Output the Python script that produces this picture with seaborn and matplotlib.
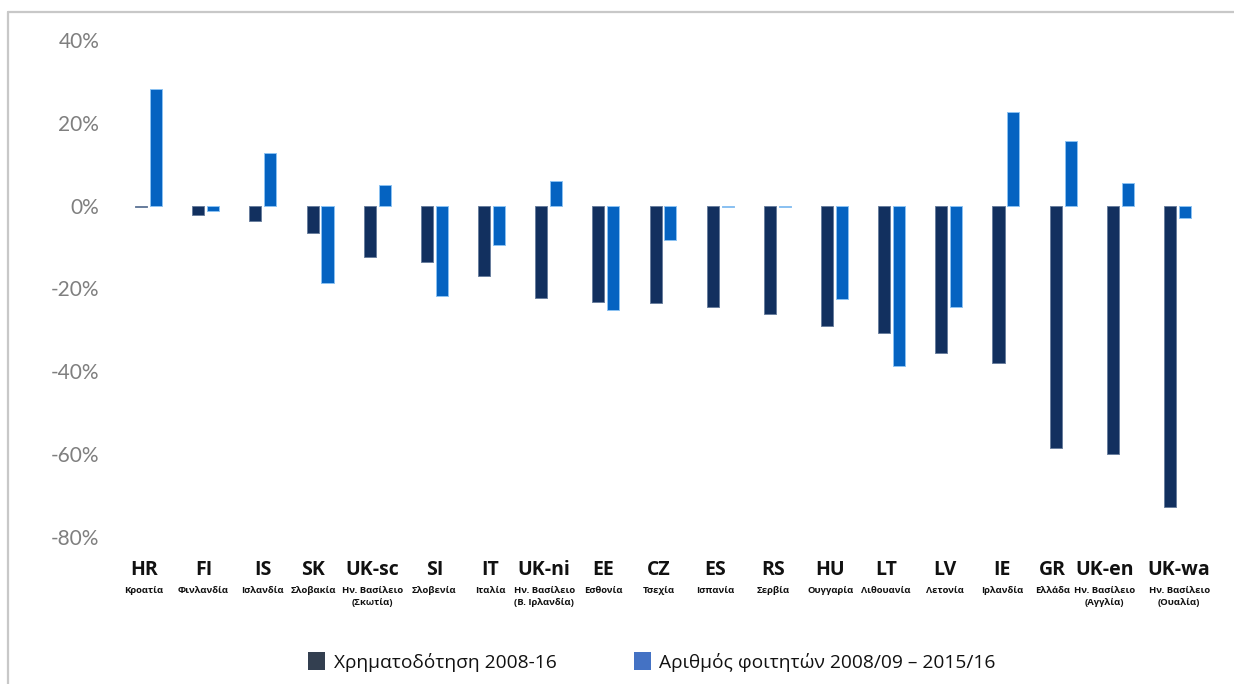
import matplotlib
matplotlib.use("Agg")
import matplotlib.pyplot as plt
from matplotlib.lines import Line2D
from matplotlib.patches import Patch
from matplotlib.transforms import blended_transform_factory
import pandas as pd
import seaborn as sns

# Country codes, Greek names and the two percentage changes per system
codes = ["HR", "FI", "IS", "SK", "UK-sc", "SI", "IT", "UK-ni", "EE", "CZ",
         "ES", "RS", "HU", "LT", "LV", "IE", "GR", "UK-en", "UK-wa"]
names = ["Κροατία", "Φινλανδία", "Ισλανδία", "Σλοβακία", "Ην. Βασίλειο\n(Σκωτία)",
         "Σλοβενία", "Ιταλία", "Ην. Βασίλειο\n(Β. Ιρλανδία)", "Εσθονία", "Τσεχία",
         "Ισπανία", "Σερβία", "Ουγγαρία", "Λιθουανία", "Λετονία", "Ιρλανδία",
         "Ελλάδα", "Ην. Βασίλειο\n(Αγγλία)", "Ην. Βασίλειο\n(Ουαλία)"]
funding = [-0.3, -2.3, -3.7, -6.6, -12.4, -13.7, -17.0, -22.2, -23.2, -23.5,
           -24.5, -26.1, -29.1, -30.7, -35.6, -38.1, -58.5, -59.9, -72.8]
students = [28.1, -1.4, 12.8, -18.7, 5.0, -21.7, -9.5, 5.9, -25.2, -8.2,
            -0.4, -0.4, -22.5, -38.6, -24.5, 22.6, 15.7, 5.5, -3.0]
series_names = ["Χρηματοδότηση 2008-16", "Αριθμός φοιτητών 2008/09 – 2015/16"]
y_ticks = [-80, -60, -40, -20, 0, 20, 40]

bar_colors = ["#12305f", "#0563c1"]
edge_colors = ["#6a7f9e", "#8cc2f2"]
legend_colors = ["#333f50", "#4472c4"]

# Small horizontal nudges (in category units) so crowded labels stay apart
label_nudge = [-0.08, -0.04, 0.0, -0.12, -0.08, 0.0, -0.02, -0.08, -0.05, -0.08,
               -0.08, -0.07, -0.07, -0.1, -0.07, -0.07, -0.19, -0.28, 0.03]

df = pd.DataFrame({
    "code": codes * 2,
    "value": funding + students,
    "series": [series_names[0]] * len(codes) + [series_names[1]] * len(codes),
})

sns.set_theme(style="white")
plt.rcParams["font.family"] = ["Open Sans", "DejaVu Sans"]

fig = plt.figure(figsize=(12.34, 6.84), dpi=100)
ax = fig.add_axes([120 / 1234, 1 - 537 / 684, (1206 - 120) / 1234, (537 - 40) / 684])

sns.barplot(data=df, x="code", y="value", hue="series", hue_order=series_names,
            palette=bar_colors, saturation=1, width=0.52, gap=0.19,
            legend=False, ax=ax)

for cont, ec in zip(ax.containers, edge_colors):
    for bar in cont:
        bar.set_edgecolor(ec)
        bar.set_linewidth(0.7)

ax.set_xlim(-0.5, len(codes) - 0.5)
ax.set_ylim(-80, 40)
ax.set_yticks(y_ticks)
ax.set_yticklabels([f"{t}%" for t in y_ticks], family=["Lato", "DejaVu Sans"],
                   fontsize=15, color="#7f7f7f")
ax.tick_params(axis="y", length=0, pad=15)
ax.set_xticks(range(len(codes)))
ax.set_xticklabels([])
ax.tick_params(axis="x", length=0)
ax.set_xlabel("")
ax.set_ylabel("")
ax.grid(False)
for sp in ax.spines.values():
    sp.set_visible(False)

# Two-level category labels below the plot area
trans = blended_transform_factory(ax.transData, fig.transFigure)
for i, (c, n) in enumerate(zip(codes, names)):
    x = i + label_nudge[i]
    ax.text(x, 1 - 570 / 684, c, transform=trans, ha="center", va="center",
            fontsize=14, fontweight="bold", color="#111111")
    ax.text(x, 1 - 586 / 684, n, transform=trans, ha="center", va="top",
            multialignment="center", fontsize=6.8, fontweight="bold",
            color="#111111", linespacing=1.45)

# Legend along the bottom
handles = [Patch(facecolor=col, edgecolor="none") for col in legend_colors]
fig.legend(handles, series_names, loc="center", bbox_to_anchor=(652 / 1234, 1 - 662 / 684),
           ncol=2, frameon=False, fontsize=13.8, handlelength=0.9, handleheight=1.05,
           handletextpad=0.45, columnspacing=4.0, labelcolor="#111111")

# Thin grey frame on the top and left edges
fig.add_artist(Line2D([8 / 1234, 1], [1 - 12 / 684, 1 - 12 / 684],
                      transform=fig.transFigure, color="#c8c8c8", lw=1.6))
fig.add_artist(Line2D([8 / 1234, 8 / 1234], [0, 1 - 12 / 684],
                      transform=fig.transFigure, color="#c8c8c8", lw=1.6))

fig.savefig("out.png", dpi=100, facecolor="white")
